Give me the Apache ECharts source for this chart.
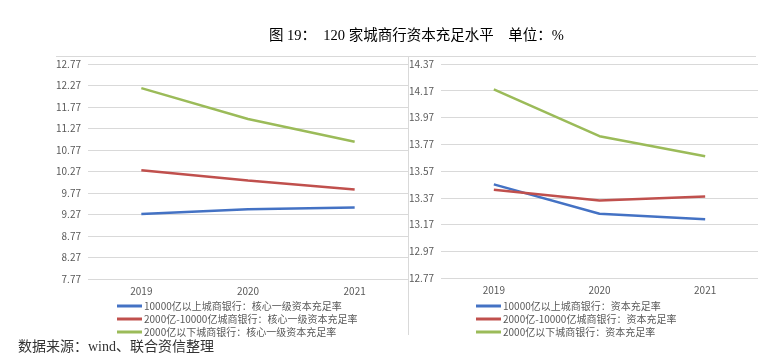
<!DOCTYPE html>
<html>
<head>
<meta charset="utf-8">
<script src="https://cdn.jsdelivr.net/npm/echarts@6/dist/echarts.min.js"></script>
<style>
  html, body { margin: 0; padding: 0; background: #fff; }
  #main { width: 768px; height: 354px; }
</style>
</head>
<body>
<div id="main"></div>
<script>
// 年份
var years = ['2019', '2020', '2021'];

// 左图：核心一级资本充足率
var coreNames = [
  '10000亿以上城商银行：核心一级资本充足率',
  '2000亿-10000亿城商银行：核心一级资本充足率',
  '2000亿以下城商银行：核心一级资本充足率'
];
var coreBig = [9.28, 9.39, 9.43];
var coreMid = [10.30, 10.06, 9.85];
var coreSmall = [12.21, 11.49, 10.96];

// 右图：资本充足率
var capNames = [
  '10000亿以上城商银行：资本充足率',
  '2000亿-10000亿城商银行：资本充足率',
  '2000亿以下城商银行：资本充足率'
];
var capBig = [13.47, 13.25, 13.21];
var capMid = [13.43, 13.35, 13.38];
var capSmall = [14.18, 13.83, 13.68];

var colors = ['#4472C4', '#C0504D', '#9BBB59'];
var cjk = '"Noto Sans CJK SC", sans-serif';
var serif = '"Liberation Serif", "Noto Sans CJK SC", serif';

function xAx(idx) {
  return {
    type: 'category', gridIndex: idx, data: years, boundaryGap: true,
    axisLine: { show: false }, axisTick: { show: false },
    axisLabel: { color: '#595959', fontSize: 10, fontFamily: cjk, margin: 7 }
  };
}
function yAx(idx, min, max, step) {
  return {
    type: 'value', gridIndex: idx, min: min, max: max, interval: step,
    axisLine: { show: false }, axisTick: { show: false },
    splitLine: { lineStyle: { color: '#d9d9d9', width: 1 } },
    axisLabel: {
      color: '#595959', fontSize: 10, fontFamily: cjk, margin: 7,
      formatter: function (v) { return v.toFixed(2); }
    }
  };
}
function line(name, data, i, idx) {
  return {
    name: name, type: 'line', data: data, xAxisIndex: idx, yAxisIndex: idx,
    symbol: 'none', smooth: false, color: colors[i],
    lineStyle: { width: 2.5, color: colors[i] }
  };
}
function legend(names, left) {
  return {
    data: names, orient: 'vertical', left: left, top: 295,
    itemWidth: 25, itemHeight: 3, itemGap: 1, icon: 'rect',
    textStyle: { color: '#595959', fontSize: 10, fontFamily: cjk, lineHeight: 12, padding: [0, 0, 0, -3] }
  };
}

var chart = echarts.init(document.getElementById('main'));
chart.setOption({
  animation: false,
  title: {
    text: '图 19：  120 家城商行资本充足水平    单位：%',
    left: 264, top: 24,
    textStyle: { fontFamily: serif, fontSize: 14.5, fontWeight: 'normal', color: '#000' }
  },
  grid: [
    { left: 88, right: 360, top: 64, bottom: 75 },
    { left: 441, right: 10, top: 64, bottom: 76 }
  ],
  xAxis: [xAx(0), xAx(1)],
  yAxis: [yAx(0, 7.77, 12.77, 0.5), yAx(1, 12.77, 14.37, 0.2)],
  legend: [legend(coreNames, 112), legend(capNames, 471)],
  series: [
    line(coreNames[0], coreBig, 0, 0),
    line(coreNames[1], coreMid, 1, 0),
    line(coreNames[2], coreSmall, 2, 0),
    line(capNames[0], capBig, 0, 1),
    line(capNames[1], capMid, 1, 1),
    line(capNames[2], capSmall, 2, 1)
  ],
  graphic: [
    { type: 'line', shape: { x1: 56, y1: 56.5, x2: 756, y2: 56.5 }, style: { stroke: '#d9d9d9', lineWidth: 1 } },
    { type: 'line', shape: { x1: 408.5, y1: 56, x2: 408.5, y2: 335 }, style: { stroke: '#d9d9d9', lineWidth: 1 } },
    {
      type: 'text', left: 18, top: 340,
      style: { text: '数据来源：wind、联合资信整理', fontFamily: serif, fontSize: 14, fontWeight: 'normal', fill: '#333' }
    }
  ]
});
</script>
</body>
</html>
